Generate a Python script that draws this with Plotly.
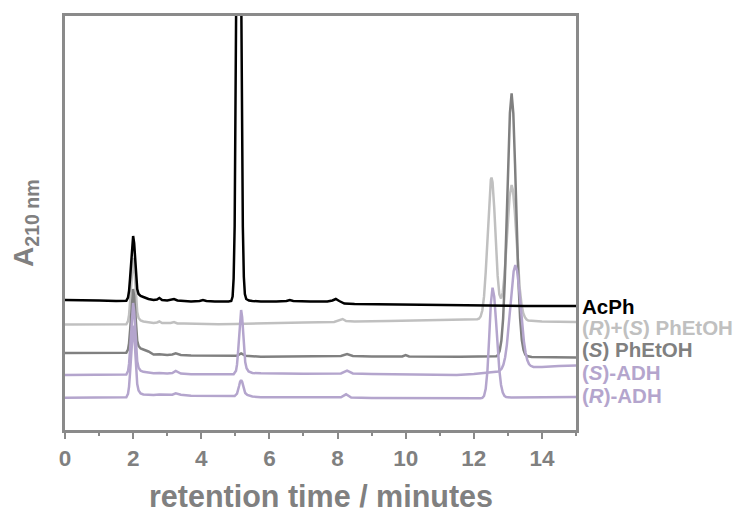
import plotly.graph_objects as go

# Retention time (min) and absorbance at 210 nm (arbitrary units, traces stacked with offsets)
ACPH_T = [0.00, 0.50, 1.00, 1.50, 1.80, 1.85, 1.88, 1.91, 1.94, 1.97, 2.00, 2.03, 2.06, 2.09, 2.12, 2.16,
          2.22, 2.30, 2.45, 2.60, 2.70, 2.77, 2.85, 3.00, 3.10, 3.20, 3.30, 3.50, 3.70, 3.95, 4.05, 4.15,
          4.40, 4.80, 4.88, 4.92, 4.95, 4.98, 5.01, 5.04, 5.07, 5.10, 5.13, 5.16, 5.19, 5.22, 5.25, 5.28,
          5.32, 5.40, 5.50, 5.75, 6.20, 6.50, 6.60, 6.70, 7.20, 7.70, 7.85, 7.95, 8.05, 8.20, 8.50, 9.50,
          10.50, 11.50, 12.50, 13.50, 15.00]
ACPH_A = [132, 132, 131.5, 131, 131.3, 134.5, 141, 153.7, 171.7, 188.8, 196, 188.8, 172, 155, 143, 138,
          136, 135, 133, 132, 132.5, 134, 132, 131.5, 132, 133, 131.5, 131, 130.5, 131, 132, 131,
          130.5, 130.5, 131, 135.5, 153.5, 205.5, 322.5, 505.5, 690, 770, 690, 505.5, 322.5, 205.5, 155, 138,
          133, 131.5, 131, 130.5, 130.5, 131, 132, 131, 130.5, 130.5, 131.5, 133, 131, 128.5, 128, 127.5,
          127, 126.5, 126.5, 126, 126]

RS_T = [0.00, 1.00, 1.80, 1.85, 1.88, 1.91, 1.94, 1.97, 2.00, 2.03, 2.06, 2.09, 2.12, 2.16, 2.22, 2.30,
        2.45, 2.60, 2.70, 2.77, 2.85, 3.10, 3.20, 3.30, 3.50, 4.00, 4.50, 5.00, 5.50, 6.00, 7.00, 7.90,
        8.05, 8.15, 8.25, 8.50, 9.50, 10.50, 11.50, 12.10, 12.15, 12.20, 12.25, 12.30, 12.35, 12.40, 12.45,
        12.50, 12.52, 12.55, 12.60, 12.65, 12.70, 12.75, 12.80, 12.85, 12.90, 12.95, 13.00, 13.05, 13.11,
        13.15, 13.20, 13.25, 13.30, 13.35, 13.40, 13.45, 13.50, 13.55, 13.60, 14.00, 15.00]
RS_A = [107.5, 107.5, 107.7, 111, 117, 130.5, 149, 166.5, 174, 166.5, 149.5, 133, 120, 114, 111.5, 110.5,
        109.5, 109, 109.5, 110.5, 109, 109, 110, 108.5, 108.5, 108, 107.8, 108, 108.5, 109, 109.5, 110,
        111.5, 113, 111, 110.5, 111, 111.5, 112, 112.7, 113.3, 115.5, 121.5, 135.3, 160, 195, 230.5,
        252.3, 254.5, 249.8, 224.2, 188.1, 156.1, 137.5, 133.5, 139.5, 156.4, 182.3, 211.1, 235.2, 247,
        241.6, 221.8, 193.9, 165.7, 143, 127.8, 119, 114.8, 112.5, 111.5, 110.5, 110]

S_T = [0.00, 1.00, 1.80, 1.85, 1.88, 1.91, 1.94, 1.97, 2.00, 2.03, 2.06, 2.09, 2.12, 2.16, 2.22, 2.30,
       2.45, 2.60, 2.77, 3.00, 3.15, 3.25, 3.40, 3.70, 4.50, 5.05, 5.17, 5.30, 5.75, 7.00, 8.10, 8.28,
       8.45, 9.00, 9.90, 10.00, 10.10, 11.60, 12.60, 12.66, 12.71, 12.76, 12.81, 12.86, 12.91, 12.96,
       13.01, 13.06, 13.11, 13.16, 13.21, 13.26, 13.31, 13.36, 13.41, 13.46, 13.51, 13.56, 13.70, 15.00]
S_A = [79, 79, 79.3, 82.5, 88.9, 101.3, 119, 135.9, 143, 135.9, 119.3, 102.7, 91.2, 86, 83.5, 82.5,
       80.5, 77.5, 77.8, 77, 77.5, 78.7, 77, 76.5, 76.3, 76.3, 78.5, 76.3, 75.3, 75.5, 76, 78,
       76, 75.5, 75.5, 77, 75.5, 75.3, 75.3, 75.8, 77.1, 81.2, 91.5, 113.2, 151.4, 206.5,
       268.4, 318.9, 338.7, 318.6, 268.3, 206.3, 151.2, 113.5, 92, 82, 77.5, 76, 75, 74.5]

SADH_T = [0.00, 1.00, 1.80, 1.85, 1.88, 1.91, 1.94, 1.97, 2.00, 2.03, 2.06, 2.09, 2.12, 2.16, 2.22, 2.30,
          2.45, 2.60, 2.77, 3.00, 3.15, 3.25, 3.40, 3.70, 4.50, 4.95, 5.02, 5.05, 5.08, 5.11, 5.14, 5.17,
          5.20, 5.23, 5.26, 5.29, 5.33, 5.39, 5.50, 5.75, 7.00, 8.10, 8.28, 8.45, 9.00, 10.00, 11.50, 12.00,
          12.40, 12.60, 12.72, 12.77, 12.82, 12.87, 12.92, 12.97, 13.02, 13.07, 13.12, 13.17, 13.22, 13.27,
          13.32, 13.37, 13.42, 13.47, 13.52, 13.57, 13.62, 13.67, 13.75, 14.00, 14.50, 15.00]
SADH_A = [57, 57, 57.4, 60.9, 68.1, 82.1, 102.1, 121, 129, 121, 102.4, 83.6, 70.7, 64.2, 61.3, 60.2,
          59.5, 58.7, 59, 58.5, 59, 61, 58.5, 57.8, 57.7, 57.7, 61.2, 67.6, 80.1, 97.9, 114.9, 122,
          114.9, 98.2, 81.5, 69.9, 63.8, 60.5, 59, 58.7, 58.3, 58.5, 61.3, 58.5, 58, 57.7, 57, 58,
          59, 60, 60.5, 61.7, 63.5, 67.5, 74.8, 86.9, 104.1, 124.8, 145.4, 160.8, 167, 161.3,
          146.9, 127.3, 107.6, 90.9, 79.3, 72, 68, 66.2, 65, 65, 66, 66.5]

RADH_T = [0.00, 1.00, 1.80, 1.85, 1.88, 1.91, 1.94, 1.97, 2.00, 2.03, 2.06, 2.09, 2.12, 2.16, 2.22, 2.30,
          2.45, 2.60, 2.77, 3.00, 3.15, 3.25, 3.40, 3.70, 4.50, 4.98, 5.05, 5.08, 5.11, 5.14, 5.17, 5.20,
          5.23, 5.26, 5.29, 5.35, 5.50, 5.75, 7.00, 8.10, 8.25, 8.40, 9.00, 10.00, 12.20, 12.25, 12.30,
          12.35, 12.40, 12.45, 12.50, 12.55, 12.60, 12.65, 12.70, 12.75, 12.80, 12.85, 12.90, 12.95, 13.10,
          14.00, 15.00]
RADH_A = [34.3, 34.3, 34.7, 38.2, 45.4, 59.4, 79.4, 98.3, 106.3, 98.3, 79.7, 60.9, 48, 41.5, 38.6, 37.5,
          37, 37, 37.5, 37, 37.3, 38.7, 37.2, 36.3, 36, 36, 38.5, 41.6, 46, 50.2, 52, 50.2,
          46.1, 41.9, 39, 37, 35.5, 34.7, 34.5, 34.7, 37.7, 34.5, 34, 33.7, 33.7, 34.1, 36,
          43.1, 61.2, 93.3, 128.5, 144.3, 135.4, 112.2, 84.9, 61.8, 47, 39.4, 36.1, 34.9, 34.5,
          34.5, 35]

LABELS = ["AcPh", "(<i>R</i>)+(<i>S</i>) PhEtOH", "(<i>S</i>) PhEtOH", "(<i>S</i>)-ADH", "(<i>R</i>)-ADH"]

X_TICKS = [0, 2, 4, 6, 8, 10, 12, 14]

X_TITLE = "retention time / minutes"
Y_TITLE = "A<sub>210 nm</sub>"

BLACK = "#000000"
LIGHT = "#c0c0c0"
DARK = "#808080"
PURPLE = "#b4a5cd"
AXIS = "#8a8a8a"
TEXT_GREY = "#808080"
FONT = "Liberation Sans, Arial, sans-serif"

fig = go.Figure()

# drawing order: lighter traces first, black on top
series = [
    (RS_T, RS_A, LIGHT),
    (S_T, S_A, DARK),
    (RADH_T, RADH_A, PURPLE),
    (SADH_T, SADH_A, PURPLE),
    (ACPH_T, ACPH_A, BLACK),
]
for t, a, c in series:
    fig.add_trace(go.Scatter(x=t, y=a, mode="lines", line=dict(color=c, width=2.5),
                             hoverinfo="skip", showlegend=False))

# trace labels to the right of the frame
label_colors = [BLACK, LIGHT, DARK, PURPLE, PURPLE]
label_y = [125.3, 105.0, 82.7, 59.3, 37.0]
for text, col, yy in zip(LABELS, label_colors, label_y):
    fig.add_annotation(x=1, xref="paper", y=yy, yref="y", text=text, showarrow=False,
                       xanchor="left", yanchor="middle", xshift=4,
                       font=dict(family=FONT, size=20.5, color=col, weight="bold"))

# axis titles
fig.add_annotation(x=0.5, xref="paper", y=0, yref="paper", text=X_TITLE, showarrow=False,
                   xanchor="center", yanchor="middle", yshift=-66,
                   font=dict(family=FONT, size=30.5, color=TEXT_GREY, weight="bold"))
fig.add_annotation(x=0, xref="paper", y=0.5, yref="paper", text=Y_TITLE, showarrow=False,
                   textangle=-90, xanchor="center", yanchor="middle", xshift=-40,
                   font=dict(family=FONT, size=28, color=TEXT_GREY, weight="bold"))

fig.update_layout(
    width=744, height=512,
    margin=dict(l=65, r=168, t=16, b=82),
    paper_bgcolor="white", plot_bgcolor="white",
    font=dict(family=FONT),
    xaxis=dict(
        range=[0, 15], tickvals=X_TICKS, ticktext=[str(v) for v in X_TICKS],
        showgrid=False, zeroline=False, automargin=False,
        showline=True, linecolor=AXIS, linewidth=2.5, mirror=True,
        ticks="outside", ticklen=6, tickwidth=2, tickcolor=AXIS,
        minor=dict(dtick=1, tick0=0, ticks="outside", ticklen=3, tickwidth=2, tickcolor=AXIS, showgrid=False),
        tickfont=dict(family=FONT, size=22.5, color=TEXT_GREY, weight="bold"),
    ),
    yaxis=dict(
        range=[2, 416], showticklabels=False, ticks="",
        showgrid=False, zeroline=False, automargin=False,
        showline=True, linecolor=AXIS, linewidth=2.5, mirror=True,
    ),
)

fig.write_html("out.html")
